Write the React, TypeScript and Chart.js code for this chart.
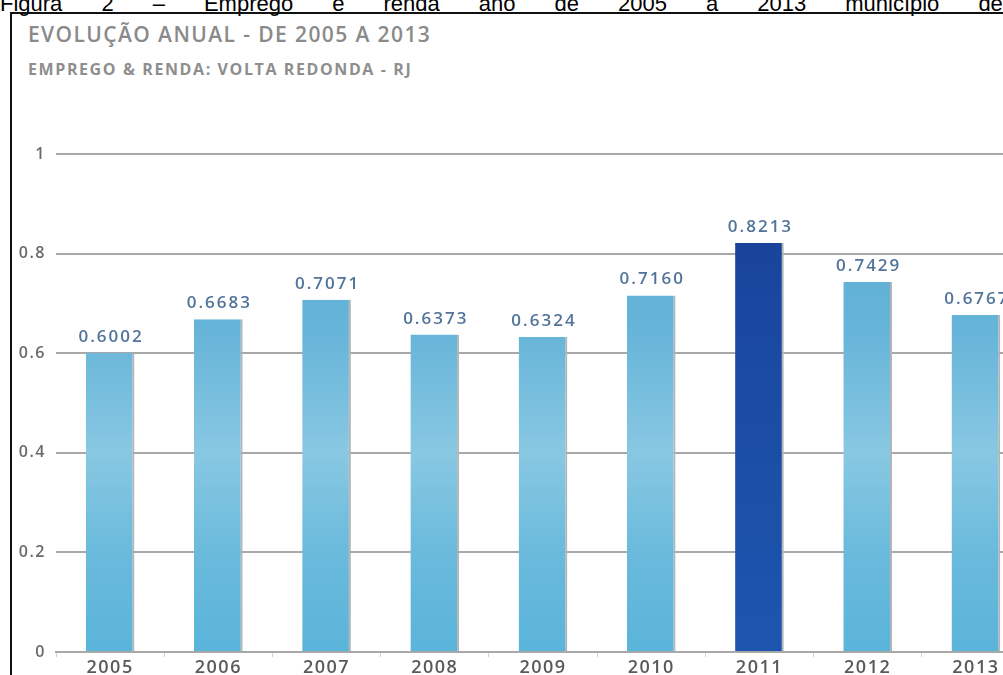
import React, { useEffect, useRef } from 'react';
import { Chart, registerables } from 'chart.js';

Chart.register(...registerables);

const captionWords = ['Figura', '2', '–', 'Emprego', 'e', 'renda', 'ano', 'de', '2005', 'a', '2013', 'município', 'de'];
const chartTitle = 'EVOLUÇÃO ANUAL - DE 2005 A 2013';
const chartSubtitle = 'EMPREGO & RENDA: VOLTA REDONDA - RJ';
const years = ['2005', '2006', '2007', '2008', '2009', '2010', '2011', '2012', '2013'];
const values = [0.6002, 0.6683, 0.7071, 0.6373, 0.6324, 0.716, 0.8213, 0.7429, 0.6767];
const highlightYear = '2011';
const yTicks = [0, 0.2, 0.4, 0.6, 0.8, 1];

const valueLabelPlugin = {
  id: 'valueLabels',
  afterDatasetsDraw(chart: any) {
    const ctx = chart.ctx;
    const meta = chart.getDatasetMeta(0);
    ctx.save();
    ctx.font = '600 17px "Open Sans"';
    ctx.fillStyle = '#52749a';
    ctx.textAlign = 'center';
    ctx.textBaseline = 'alphabetic';
    (ctx as any).letterSpacing = '2px';
    meta.data.forEach((bar: any, i: number) => {
      const v = chart.data.datasets[0].data[i] as number;
      ctx.fillText(v.toFixed(4), bar.x + 1, bar.y - 11);
    });
    ctx.restore();
  },
};

const spacingPlugin = {
  id: 'tickSpacing',
  beforeDraw(chart: any) {
    (chart.ctx as any).letterSpacing = '1.5px';
  },
};

export default function App() {
  const ref = useRef<HTMLCanvasElement>(null);

  useEffect(() => {
    const canvas = ref.current!;
    const chart = new Chart(canvas, {
      type: 'bar',
      data: {
        labels: years,
        datasets: [
          {
            data: values,
            backgroundColor: (c: any) => {
              const area = c.chart.chartArea;
              const hi = years[c.dataIndex] === highlightYear;
              if (!area) return hi ? '#1a4ea6' : '#6ab9dc';
              const g = c.chart.ctx.createLinearGradient(0, area.top, 0, area.bottom);
              if (hi) {
                g.addColorStop(0, '#173f96');
                g.addColorStop(0.5, '#1b4ca5');
                g.addColorStop(1, '#1d55ae');
              } else {
                g.addColorStop(0, '#56a8d3');
                g.addColorStop(0.35, '#66b4d9');
                g.addColorStop(0.6, '#88c8e2');
                g.addColorStop(0.8, '#6abadc');
                g.addColorStop(1, '#5ab4da');
              }
              return g;
            },
            borderColor: '#b4b4b4',
            borderWidth: { left: 0, right: 2, top: 0, bottom: 0 },
            borderSkipped: false,
            barPercentage: 0.45,
            categoryPercentage: 1,
          },
        ],
      },
      options: {
        responsive: false,
        animation: false,
        devicePixelRatio: 1,
        layout: { padding: { top: 34, right: 10, left: 0, bottom: 0 } },
        plugins: {
          legend: { display: false },
          tooltip: { enabled: false },
          title: { display: false },
        },
        scales: {
          x: {
            afterFit: (s: any) => {
              s.height = 28;
            },
            grid: {
              display: true,
              drawOnChartArea: false,
              drawTicks: true,
              tickLength: 5,
              color: '#d2d2d2',
              lineWidth: 1,
            },
            border: { display: true, color: '#a8a8a8', width: 2 },
            ticks: {
              color: '#5a5a5a',
              padding: 0,
              font: { family: '"Open Sans"', size: 18, weight: '600' },
            },
          },
          y: {
            min: 0,
            max: 1,
            afterFit: (s: any) => {
              s.width = 56;
            },
            afterBuildTicks: (s: any) => {
              s.ticks = yTicks.map((v) => ({ value: v }));
            },
            grid: {
              color: '#a8a8a8',
              lineWidth: 2,
              drawTicks: false,
            },
            border: { display: false },
            ticks: {
              color: '#6a6a6a',
              padding: 10,
              font: { family: '"Open Sans"', size: 16, weight: '600' },
              callback: (v: any) => String(Number(Number(v).toFixed(2))),
            },
          },
        },
      },
      plugins: [spacingPlugin, valueLabelPlugin],
    });
    return () => chart.destroy();
  }, []);

  return (
    <div
      style={{
        position: 'fixed',
        left: 0,
        top: 0,
        width: 1003,
        height: 675,
        overflow: 'hidden',
        background: '#ffffff',
      }}
    >
      <div
        style={{
          position: 'absolute',
          left: 0,
          top: -7,
          width: 1003,
          display: 'flex',
          justifyContent: 'space-between',
          fontFamily: '"Liberation Sans", Arial, sans-serif',
          fontSize: 22,
          lineHeight: '21px',
          color: '#000',
          whiteSpace: 'nowrap',
        }}
      >
        {captionWords.map((w, i) => (
          <span key={i}>{w}</span>
        ))}
      </div>
      <div
        style={{
          position: 'absolute',
          left: 10,
          top: 12,
          width: 1100,
          height: 800,
          borderLeft: '2px solid #111',
          borderTop: '2px solid #111',
          background: 'transparent',
        }}
      />
      <div
        style={{
          position: 'absolute',
          left: 28,
          top: 24,
          fontFamily: '"Open Sans", sans-serif',
          fontWeight: 600,
          fontSize: 21,
          lineHeight: '21px',
          color: '#8a8a8a',
          whiteSpace: 'nowrap',
          letterSpacing: '1.4px',
        }}
      >
        {chartTitle}
      </div>
      <div
        style={{
          position: 'absolute',
          left: 28,
          top: 61,
          fontFamily: '"Open Sans", sans-serif',
          fontWeight: 700,
          fontSize: 16,
          lineHeight: '16px',
          color: '#8e8e8e',
          whiteSpace: 'nowrap',
          letterSpacing: '1.6px',
        }}
      >
        {chartSubtitle}
      </div>
      <canvas
        ref={ref}
        width={1040}
        height={560}
        style={{ position: 'absolute', left: 0, top: 120, width: 1040, height: 560 }}
      />
    </div>
  );
}
